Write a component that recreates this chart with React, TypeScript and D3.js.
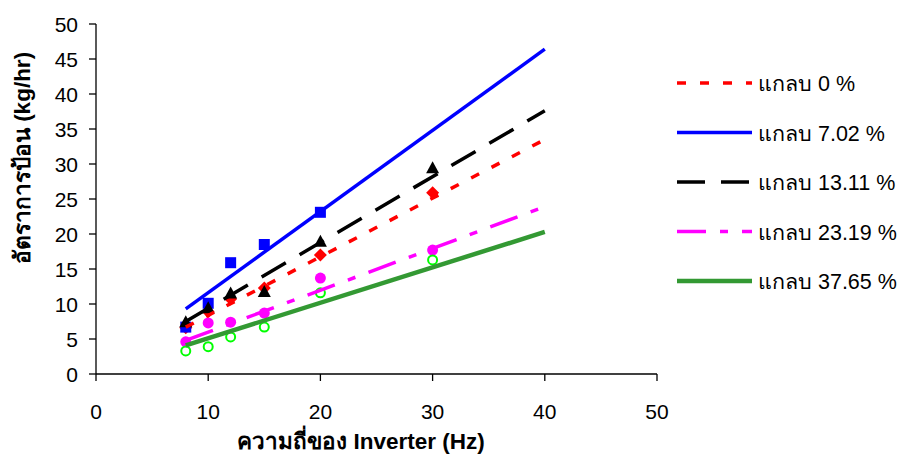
import React from "react";
import * as d3 from "d3";

const freq = [8, 10, 12, 15, 20, 30];
const husk0 = [6.6, 8.9, 10.7, 12.3, 17.0, 25.9];
const husk702 = [6.7, 10.1, 15.9, 18.5, 23.1];
const husk1311 = [7.4, 9.4, 11.5, 11.7, 18.9, 29.4];
const husk2319 = [4.6, 7.3, 7.4, 8.7, 13.7, 17.7];
const husk3765 = [3.3, 3.9, 5.3, 6.7, 11.6, 16.3];

const trendX = [8, 40];
const trend0 = [6.7, 33.5];
const trend702 = [9.3, 46.4];
const trend1311 = [7.5, 37.6];
const trend2319 = [4.8, 23.9];
const trend3765 = [4.1, 20.3];

const legendLabels = ["แกลบ 0 %", "แกลบ 7.02 %", "แกลบ 13.11 %", "แกลบ 23.19 %", "แกลบ 37.65 %"];
const xTicks = [0, 10, 20, 30, 40, 50];
const yTicks = [0, 5, 10, 15, 20, 25, 30, 35, 40, 45, 50];

const W = 901, H = 457;
const M = { left: 96, right: 657, top: 24, bottom: 374 };
const FONT = "'Liberation Sans', Arial, 'Noto Sans', sans-serif";

type Series = {
  values: number[];
  trend: number[];
  color: string;
  dash: string;
  width: number;
  marker: "square" | "diamond" | "triangle" | "dot" | "ring";
  mcolor: string;
};

const series: Series[] = [
  { values: husk0, trend: trend0, color: "#FF0000", dash: "9,14", width: 3.5, marker: "diamond", mcolor: "#FF0000" },
  { values: husk702, trend: trend702, color: "#0000FF", dash: "", width: 3.5, marker: "square", mcolor: "#0000FF" },
  { values: husk1311, trend: trend1311, color: "#000000", dash: "28,16", width: 3.5, marker: "triangle", mcolor: "#000000" },
  { values: husk2319, trend: trend2319, color: "#FF00FF", dash: "29,14,8,14", width: 3.5, marker: "dot", mcolor: "#FF00FF" },
  { values: husk3765, trend: trend3765, color: "#339933", dash: "", width: 4.5, marker: "ring", mcolor: "#00FF00" },
];

function Marker({ kind, x, y, color }: { kind: Series["marker"]; x: number; y: number; color: string }) {
  switch (kind) {
    case "square":
      return <rect x={x - 5.5} y={y - 5.5} width={11} height={11} fill={color} />;
    case "diamond":
      return <path d={`M${x},${y - 6.5}L${x + 6.5},${y}L${x},${y + 6.5}L${x - 6.5},${y}Z`} fill={color} />;
    case "triangle":
      return <path d={`M${x},${y - 7}L${x + 6.5},${y + 5}L${x - 6.5},${y + 5}Z`} fill={color} />;
    case "dot":
      return <circle cx={x} cy={y} r={5.5} fill={color} />;
    case "ring":
      return <circle cx={x} cy={y} r={4.5} fill="none" stroke={color} strokeWidth={2} />;
  }
}

export default function App() {
  const x = d3.scaleLinear().domain([0, 50]).range([M.left, M.right]);
  const y = d3.scaleLinear().domain([0, 50]).range([M.bottom, M.top]);
  const line = d3
    .line<[number, number]>()
    .x((d) => x(d[0]))
    .y((d) => y(d[1]));

  const legendY0 = 83;
  const legendStep = 49.5;

  return (
    <div style={{ position: "absolute", left: 0, top: 0 }}>
      <svg width={W} height={H} style={{ display: "block", background: "#fff" }}>
        {/* markers */}
        {series.map((s, si) =>
          s.values.map((v, i) => (
            <Marker key={`m${si}-${i}`} kind={s.marker} x={x(freq[i])} y={y(v)} color={s.mcolor} />
          ))
        )}
        {/* trend lines */}
        {series.map((s, si) => (
          <path
            key={`t${si}`}
            d={line(trendX.map((t, i) => [t, s.trend[i]] as [number, number])) || ""}
            fill="none"
            stroke={s.color}
            strokeWidth={s.width}
            strokeDasharray={s.dash || undefined}
          />
        ))}
        {/* axes */}
        <line x1={M.left} x2={M.left} y1={M.top} y2={M.bottom} stroke="#000" strokeWidth={1.3} />
        <line x1={M.left} x2={M.right} y1={M.bottom} y2={M.bottom} stroke="#000" strokeWidth={1.3} />
        {yTicks.map((t) => (
          <g key={`yt${t}`}>
            <line x1={M.left - 7} x2={M.left} y1={y(t)} y2={y(t)} stroke="#000" strokeWidth={1.3} />
            <text x={M.left - 18} y={y(t) + 7.5} textAnchor="end" fontSize={21} fontFamily={FONT} fill="#000">
              {t}
            </text>
          </g>
        ))}
        {xTicks.map((t) => (
          <g key={`xt${t}`}>
            <line x1={x(t)} x2={x(t)} y1={M.bottom} y2={M.bottom + 7} stroke="#000" strokeWidth={1.3} />
            <text x={x(t)} y={M.bottom + 45} textAnchor="middle" fontSize={21} fontFamily={FONT} fill="#000">
              {t}
            </text>
          </g>
        ))}
        {/* axis titles */}
        <text
          x={361}
          y={449}
          textAnchor="middle"
          fontSize={22.5}
          fontWeight="bold"
          fontFamily={FONT}
          fill="#000"
        >
          ความถี่ของ Inverter (Hz)
        </text>
        <text
          transform={`translate(30,${158}) rotate(-90)`}
          textAnchor="middle"
          fontSize={22.5}
          fontWeight="bold"
          fontFamily={FONT}
          fill="#000"
        >
          อัตราการป้อน (kg/hr)
        </text>
        {/* legend */}
        {series.map((s, i) => {
          const ly = legendY0 + i * legendStep;
          return (
            <g key={`lg${i}`}>
              <line
                x1={677}
                x2={752}
                y1={ly}
                y2={ly}
                stroke={s.color}
                strokeWidth={s.width}
                strokeDasharray={s.dash || undefined}
              />
              <text x={758} y={ly + 8} fontSize={21.5} fontFamily={FONT} fill="#000">
                {legendLabels[i]}
              </text>
            </g>
          );
        })}
      </svg>
    </div>
  );
}
